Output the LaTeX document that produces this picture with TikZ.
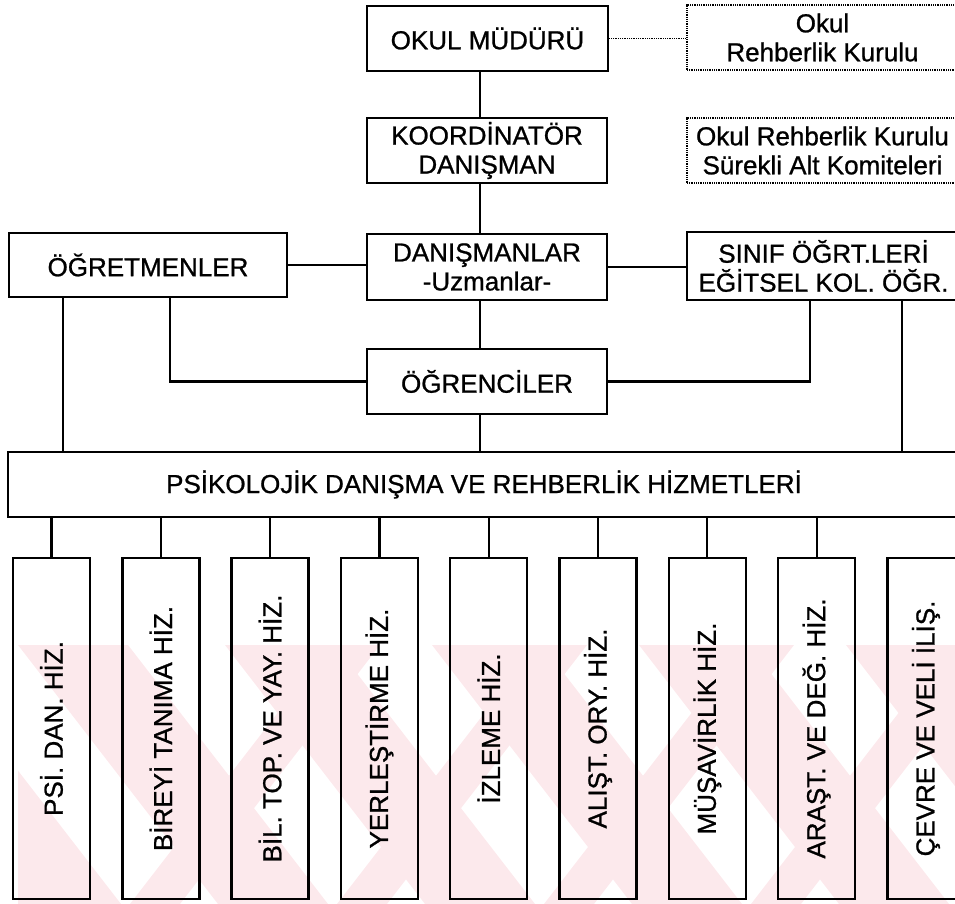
\documentclass[tikz,border=0pt]{standalone}
\usepackage{fontspec}
\setmainfont{Liberation Sans}[BoldFont={Liberation Sans},BoldFeatures={FakeBold=0.9}]
\newcommand{\dfont}{\fontsize{26}{29}\selectfont\bfseries}
\definecolor{wm}{HTML}{FCE9EC}
\begin{document}
\begin{tikzpicture}[x=1pt,y=-1pt,
  bx/.style={draw, line width=2.4pt, inner sep=0pt, align=center, font=\dfont},
  dbx/.style={draw, line width=1.5pt, dash pattern=on 1pt off 0.8pt, inner sep=0pt, align=center, font=\dfont},
  ln/.style={line width=2.2pt},
  dln/.style={line width=1.5pt, dash pattern=on 1pt off 0.8pt},
  vbx/.style={draw, line width=2.4pt, inner sep=0pt, minimum width=77pt, minimum height=341pt},
  vtx/.style={rotate=90, inner sep=0pt, font=\dfont}]
\useasboundingbox (0,0) rectangle (955,904);
% watermark
\begin{scope}
  \clip (18,645) rectangle (955,904);
  \foreach \a in {-189,18,225,432,639,846} {
    \fill[wm] (\a,645) -- (\a+110,645) -- (\a+310,904) -- (\a+200,904) -- cycle;
  }
  \foreach \a in {330,537,744,951,1158} {
    \fill[wm] (\a,645) -- (\a+50,645) -- (\a-150,904) -- (\a-200,904) -- cycle;
  }
\end{scope}
% top boxes
\node[bx, minimum width=241pt, minimum height=65pt] (mudur) at (487.5,38.5) {OKUL MÜDÜRÜ};
\node[dbx, minimum width=271pt, minimum height=65pt] (kurul) at (822.5,37.5) {Okul\\Rehberlik Kurulu};
\node[bx, minimum width=240pt, minimum height=65pt] (koord) at (487,150.5) {KOORDİNATÖR\\DANIŞMAN};
\node[dbx, minimum width=271pt, minimum height=65pt] (komite) at (822.5,150.5) {Okul Rehberlik Kurulu\\Sürekli Alt Komiteleri};
\node[bx, minimum width=278pt, minimum height=64pt] (ogretmen) at (148,265) {ÖĞRETMENLER};
\node[bx, minimum width=240pt, minimum height=66pt] (danis) at (487,267) {DANIŞMANLAR\\-Uzmanlar-};
\node[bx, minimum width=273pt, minimum height=68pt] (sinif) at (823.5,266) {SINIF ÖĞRT.LERİ\\EĞİTSEL KOL. ÖĞR.};
\node[bx, minimum width=240pt, minimum height=65pt] (ogrenci) at (487,381.5) {ÖĞRENCİLER};
\node[bx, minimum width=952pt, minimum height=65pt] (pdr) at (484,484.5) {PSİKOLOJİK DANIŞMA VE REHBERLİK HİZMETLERİ};
% spine and branch coordinates
\coordinate (spine) at (480,0);
\coordinate (tL) at (170,0);
\coordinate (tR) at (810,0);
\coordinate (fL) at (63,0);
\coordinate (fR) at (902,0);
% connectors
\draw[ln] (spine |- mudur.south) -- (spine |- koord.north);
\draw[ln] (spine |- koord.south) -- (spine |- danis.north);
\draw[ln] (spine |- danis.south) -- (spine |- ogrenci.north);
\draw[ln] (spine |- ogrenci.south) -- (spine |- pdr.north);
\draw[dln] (mudur.east) -- (mudur.east -| kurul.west);
\draw[ln] (ogretmen.east) -- (ogretmen.east -| danis.west);
\draw[ln] (danis.east) -- (danis.east -| sinif.west);
\draw[ln] (tL |- ogretmen.south) |- (ogrenci.west);
\draw[ln] (tR |- sinif.south) |- (ogrenci.east);
\draw[ln] (fL |- ogretmen.south) -- (fL |- pdr.north);
\draw[ln] (fR |- sinif.south) -- (fR |- pdr.north);
% bottom boxes
\foreach \t [count=\i from 0] in {PSİ. DAN. HİZ., BİREYİ TANIMA HİZ., BİL. TOP. VE YAY. HİZ., YERLEŞTİRME HİZ., İZLEME HİZ., ALIŞT. ORY. HİZ., MÜŞAVİRLİK HİZ., ARAŞT. VE DEĞ. HİZ., ÇEVRE VE VELİ İLİŞ.} {
  \node[vbx] (b\i) at ({51.5+109.3*\i},728.5) {};
  \node[vtx] (t\i) at (b\i) {\t};
}
\foreach \i in {0,...,7} {
  \draw[ln] (pdr.south -| b\i.north) -- (b\i.north);
}
\end{tikzpicture}
\end{document}
